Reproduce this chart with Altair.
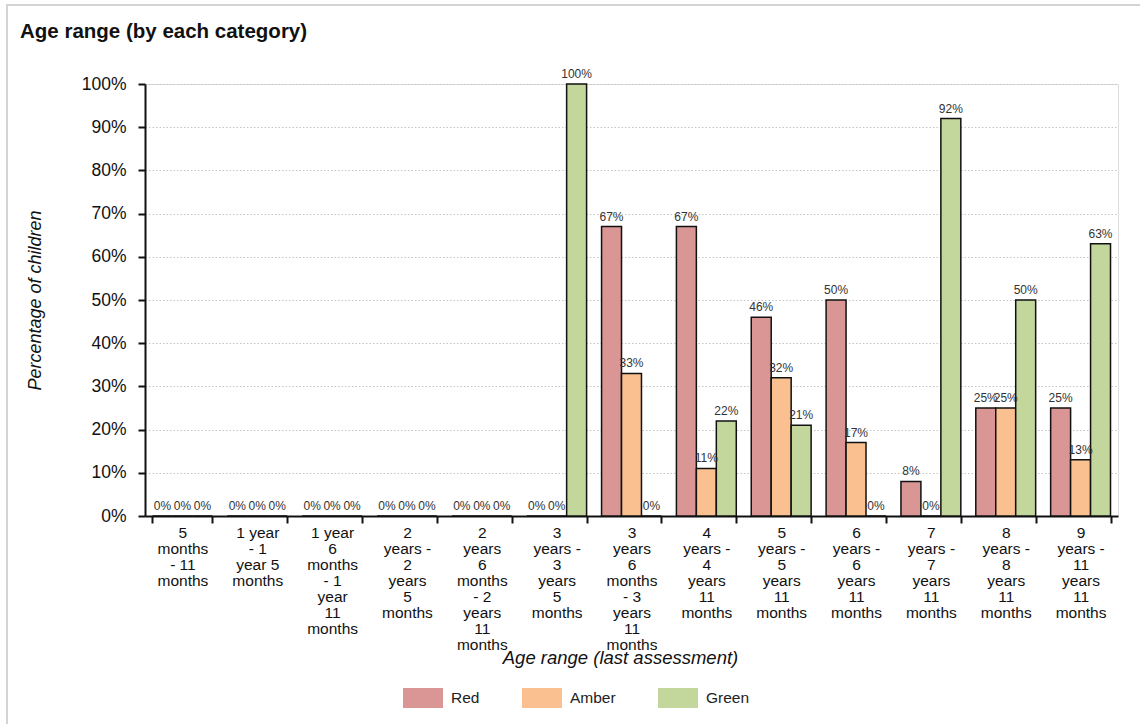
import json
import altair as alt
import pandas as pd

categories = [
    "5 months - 11 months",
    "1 year - 1 year 5 months",
    "1 year 6 months - 1 year 11 months",
    "2 years - 2 years 5 months",
    "2 years 6 months - 2 years 11 months",
    "3 years - 3 years 5 months",
    "3 years 6 months - 3 years 11 months",
    "4 years - 4 years 11 months",
    "5 years - 5 years 11 months",
    "6 years - 6 years 11 months",
    "7 years - 7 years 11 months",
    "8 years - 8 years 11 months",
    "9 years - 11 years 11 months",
]
label_lines = [
    ["5", "months", "- 11", "months"],
    ["1 year", "- 1", "year 5", "months"],
    ["1 year", "6", "months", "- 1", "year", "11", "months"],
    ["2", "years -", "2", "years", "5", "months"],
    ["2", "years", "6", "months", "- 2", "years", "11", "months"],
    ["3", "years -", "3", "years", "5", "months"],
    ["3", "years", "6", "months", "- 3", "years", "11", "months"],
    ["4", "years -", "4", "years", "11", "months"],
    ["5", "years -", "5", "years", "11", "months"],
    ["6", "years -", "6", "years", "11", "months"],
    ["7", "years -", "7", "years", "11", "months"],
    ["8", "years -", "8", "years", "11", "months"],
    ["9", "years -", "11", "years", "11", "months"],
]
series = ["Red", "Amber", "Green"]
red = [0, 0, 0, 0, 0, 0, 67, 67, 46, 50, 8, 25, 25]
amber = [0, 0, 0, 0, 0, 0, 33, 11, 32, 17, 0, 25, 13]
green = [0, 0, 0, 0, 0, 100, 0, 22, 21, 0, 92, 50, 63]
colors = ["#D99694", "#FAC090", "#C3D69B"]

rows = []
for i, c in enumerate(categories):
    for s, vals in zip(series, [red, amber, green]):
        rows.append({"category": c, "series": s, "value": vals[i], "label": f"{vals[i]}%"})
df = pd.DataFrame(rows)

FONT = "Liberation Sans"
lookup = json.dumps(dict(zip(categories, label_lines)))

x_enc = alt.X(
    "category:N",
    sort=categories,
    scale=alt.Scale(paddingInner=0.2, paddingOuter=0.1),
    axis=alt.Axis(
        title="Age range (last assessment)",
        titleFont=FONT, titleFontSize=18.5, titleFontStyle="italic", titleFontWeight="normal",
        titleColor="#111", titleX=475, titleY=141, titleBaseline="middle",
        labelExpr=f"{lookup}[datum.value]",
        labelAngle=0, labelFont=FONT, labelFontSize=15.5, labelColor="#111",
        labelLineHeight=16, labelPadding=2, labelBaseline="top",
        tickBand="extent", tickSize=7, tickWidth=2, tickColor="#111",
        domainColor="#111", domainWidth=2,
        labelOverlap=False, labelLimit=200,
    ),
)
xo_enc = alt.XOffset("series:N", sort=series, scale=alt.Scale(paddingInner=0, paddingOuter=0))
y_enc = alt.Y(
    "value:Q",
    scale=alt.Scale(domain=[0, 100], nice=False),
    axis=alt.Axis(
        title="Percentage of children",
        titleFont=FONT, titleFontSize=18, titleFontStyle="italic", titleFontWeight="normal",
        titleColor="#111", titleX=-110, titleY=216, titleAngle=-90, titleBaseline="middle",
        values=list(range(0, 101, 10)),
        labelExpr="datum.value + '%'",
        labelFont=FONT, labelFontSize=17.5, labelColor="#111", labelPadding=12,
        tickSize=7, tickWidth=2, tickColor="#111",
        domainColor="#111", domainWidth=2,
        grid=True, gridColor="#c4c4c4", gridDash=[1.5, 2], gridWidth=1,
    ),
)

bars = alt.Chart(df).mark_bar(stroke="#111", strokeWidth=1.5).encode(
    x=x_enc,
    xOffset=xo_enc,
    y=y_enc,
    color=alt.Color(
        "series:N",
        sort=series,
        scale=alt.Scale(domain=series, range=colors),
        legend=alt.Legend(
            title=None, orient="none", legendX=258, legendY=594, direction="horizontal",
            symbolType="M-1,-0.5H1V0.5H-1Z", symbolSize=1600, symbolStrokeWidth=0,
            symbolOpacity=1, labelFont=FONT, labelFontSize=15.5, labelColor="#222",
            labelOffset=8, columnPadding=42, padding=0,
        ),
    ),
)

texts = alt.Chart(df).mark_text(
    baseline="bottom", dy=-3, fontSize=12, font=FONT, color="#333"
).encode(
    x=alt.X("category:N", sort=categories),
    xOffset=alt.XOffset("series:N", sort=series),
    y="value:Q",
    text="label:N",
)

border = alt.Chart(pd.DataFrame({"k": [0]})).mark_rect(
    fillOpacity=0, stroke="#d4d4d4", strokeWidth=2
).encode(
    x=alt.value(-138), x2=alt.value(1010), y=alt.value(-79), y2=alt.value(660)
)

chart = alt.layer(bars, texts, border).properties(
    width=973,
    height=432,
    autosize=alt.AutoSizeParams(type="none"),
    padding={"left": 145, "top": 84, "right": 22, "bottom": 208},
    title=alt.TitleParams(
        "Age range (by each category)", anchor="start", frame="group", dx=-125,
        font=FONT, fontSize=20.5, fontWeight="bold", color="#111", offset=-58,
        baseline="bottom",
    ),
).configure_view(stroke="#111", strokeWidth=2).configure(background="white")

chart.save("out.html", embed_options={"renderer": "svg", "actions": False})
